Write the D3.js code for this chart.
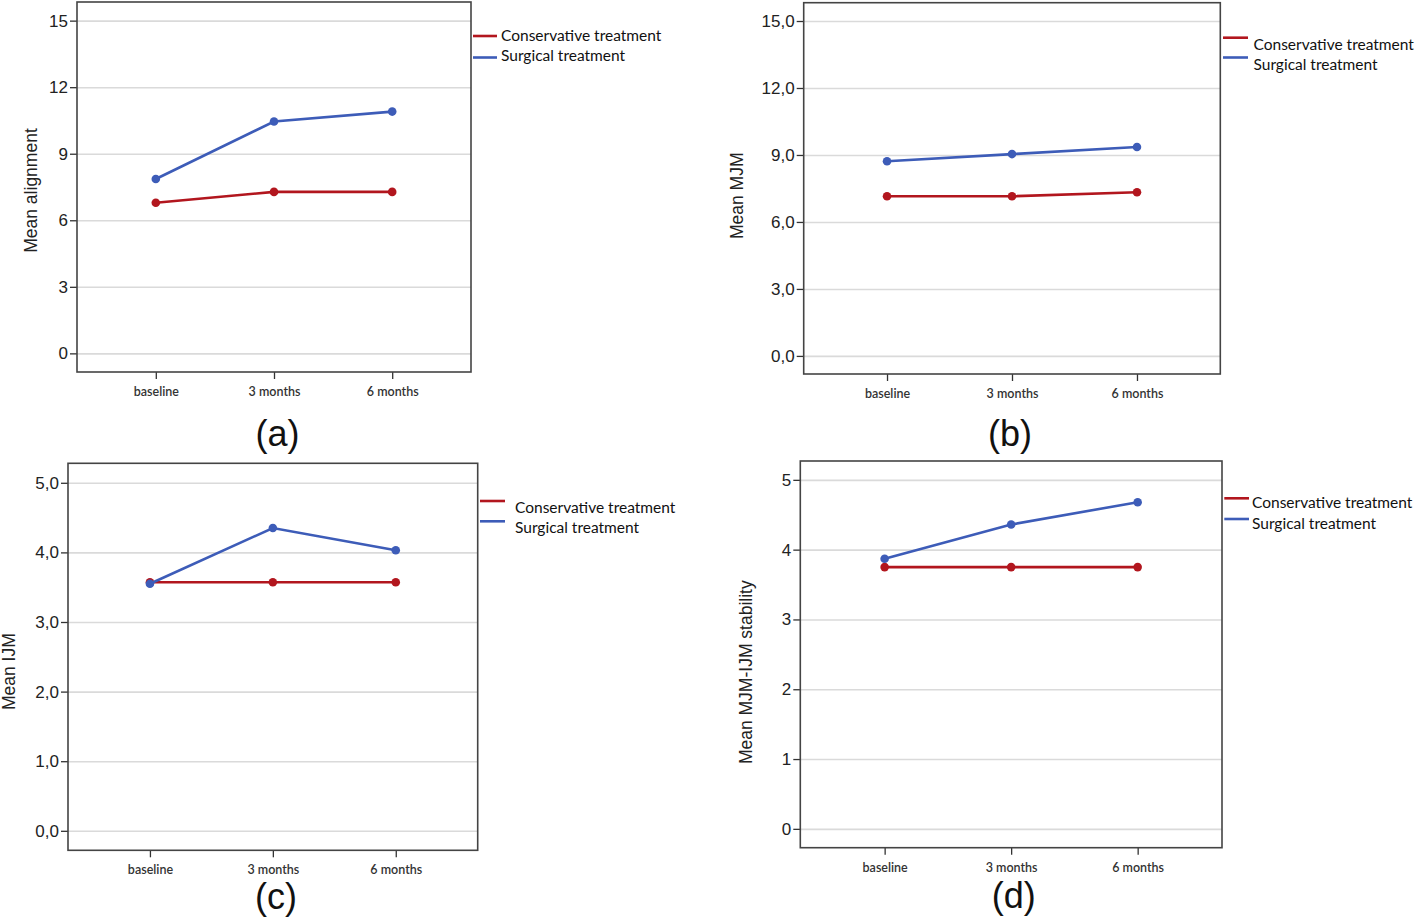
<!DOCTYPE html>
<html>
<head>
<meta charset="utf-8">
<script src="https://cdn.jsdelivr.net/npm/d3@7"></script>
<style>
  html, body { margin: 0; padding: 0; background: #ffffff; }
  svg { display: block; }
</style>
</head>
<body>
<svg id="chart" width="1418" height="920"></svg>
<script>
// ---------------- data ----------------
const timepoints = ["baseline", "3 months", "6 months"];
const seriesNames = ["Conservative treatment", "Surgical treatment"];

const alignmentConservative = [6.79, 7.28, 7.28];
const alignmentSurgical     = [7.86, 10.45, 10.90];

const mjmConservative = [7.15, 7.15, 7.33];
const mjmSurgical     = [8.72, 9.04, 9.36];

const ijmConservative = [3.57, 3.57, 3.57];
const ijmSurgical     = [3.55, 4.35, 4.03];

const stabilityConservative = [3.75, 3.75, 3.75];
const stabilitySurgical     = [3.87, 4.36, 4.68];

const ticksA = [0, 3, 6, 9, 12, 15];
const tickLabelsA = ["0", "3", "6", "9", "12", "15"];
const ticksB = [0, 3, 6, 9, 12, 15];
const tickLabelsB = ["0,0", "3,0", "6,0", "9,0", "12,0", "15,0"];
const ticksC = [0, 1, 2, 3, 4, 5];
const tickLabelsC = ["0,0", "1,0", "2,0", "3,0", "4,0", "5,0"];
const ticksD = [0, 1, 2, 3, 4, 5];
const tickLabelsD = ["0", "1", "2", "3", "4", "5"];

const yTitles = ["Mean alignment", "Mean MJM", "Mean IJM", "Mean MJM-IJM stability"];
const panelLetters = ["(a)", "(b)", "(c)", "(d)"];

// ---------------- style / layout ----------------
const colors = ["#b2161e", "#3d5cb8"];
const svg = d3.select("#chart");

const panels = [
  { cons: alignmentConservative, surg: alignmentSurgical, ticks: ticksA, labels: tickLabelsA,
    x0: 77, x1: 471, y0: 2, y1: 372, dom: [-0.84, 15.84],
    title: yTitles[0], titleX: 36.5, titleY: 190.5,
    letter: panelLetters[0], letterX: 277.5, letterY: 446,
    leg: { lx0: 473, lx1: 497, ly: [36, 57.5], tx: 501, ty: [41, 61] } },
  { cons: mjmConservative, surg: mjmSurgical, ticks: ticksB, labels: tickLabelsB,
    x0: 803.7, x1: 1220.3, y0: 2.7, y1: 374, dom: [-0.81, 15.82],
    title: yTitles[1], titleX: 743.3, titleY: 195.8,
    letter: panelLetters[1], letterX: 1010, letterY: 446,
    leg: { lx0: 1223, lx1: 1248, ly: [37.7, 57.5], tx: 1253.5, ty: [50, 69.5] } },
  { cons: ijmConservative, surg: ijmSurgical, ticks: ticksC, labels: tickLabelsC,
    x0: 68, x1: 477.7, y0: 463.3, y1: 850.3, dom: [-0.28, 5.28],
    title: yTitles[2], titleX: 15, titleY: 671.7,
    letter: panelLetters[2], letterX: 276, letterY: 909,
    leg: { lx0: 480, lx1: 505, ly: [501, 521.3], tx: 515, ty: [513.3, 533.3] } },
  { cons: stabilityConservative, surg: stabilitySurgical, ticks: ticksD, labels: tickLabelsD,
    x0: 800.3, x1: 1222, y0: 461, y1: 847.7, dom: [-0.27, 5.27],
    title: yTitles[3], titleX: 752.3, titleY: 672.2,
    letter: panelLetters[3], letterX: 1013.8, letterY: 908,
    leg: { lx0: 1224.3, lx1: 1249, ly: [498.3, 519], tx: 1252, ty: [508.3, 529.3] } }
];

panels.forEach(p => {
  const g = svg.append("g");
  const x = d3.scalePoint().domain(timepoints).range([p.x0, p.x1]).padding(2 / 3);
  const y = d3.scaleLinear().domain(p.dom).range([p.y1, p.y0]);
  const w = p.x1 - p.x0;

  // grid lines
  const grid = g.append("g").attr("transform", `translate(${p.x0},0)`)
    .call(d3.axisLeft(y).tickValues(p.ticks).tickSize(-w).tickFormat(""));
  grid.select(".domain").remove();
  grid.selectAll("line").attr("stroke", "#dadada").attr("stroke-width", 1.6);

  // y axis ticks + labels
  const yAxis = g.append("g").attr("transform", `translate(${p.x0},0)`)
    .call(d3.axisLeft(y).tickValues(p.ticks).tickSize(7).tickPadding(2)
      .tickFormat((d, i) => p.labels[i]));
  yAxis.select(".domain").remove();
  yAxis.selectAll("line").attr("stroke", "#333").attr("stroke-width", 1.3);
  yAxis.selectAll("text").attr("font-family", "'Liberation Sans', Arial, sans-serif")
    .attr("font-size", 17).attr("fill", "#222");

  // x axis ticks + labels
  const xAxis = g.append("g").attr("transform", `translate(0,${p.y1})`)
    .call(d3.axisBottom(x).tickSize(7).tickPadding(0));
  xAxis.select(".domain").remove();
  xAxis.selectAll("line").attr("stroke", "#333").attr("stroke-width", 1.3);
  xAxis.selectAll("text").attr("font-family", "Lato, 'Open Sans', sans-serif")
    .attr("font-size", 12.5).attr("fill", "#333").attr("dy", null).attr("y", 24)
    .attr("font-weight", 600);

  // frame
  g.append("rect").attr("x", p.x0).attr("y", p.y0).attr("width", w).attr("height", p.y1 - p.y0)
    .attr("fill", "none").attr("stroke", "#444").attr("stroke-width", 1.6);

  // series
  const line = d3.line().x((d, i) => x(timepoints[i])).y(d => y(d));
  [p.cons, p.surg].forEach((vals, si) => {
    g.append("path").datum(vals).attr("d", line)
      .attr("fill", "none").attr("stroke", colors[si]).attr("stroke-width", 2.6);
    g.selectAll(null).data(vals).enter().append("circle")
      .attr("cx", (d, i) => x(timepoints[i])).attr("cy", d => y(d)).attr("r", 4.3)
      .attr("fill", colors[si]);
  });

  // y title
  g.append("text").attr("transform", `translate(${p.titleX},${p.titleY}) rotate(-90)`)
    .attr("text-anchor", "middle").attr("font-family", "'Liberation Sans', Arial, sans-serif")
    .attr("font-size", 17.5).attr("fill", "#222").text(p.title);

  // legend
  seriesNames.forEach((name, si) => {
    g.append("line").attr("x1", p.leg.lx0).attr("x2", p.leg.lx1)
      .attr("y1", p.leg.ly[si]).attr("y2", p.leg.ly[si])
      .attr("stroke", colors[si]).attr("stroke-width", 2.6);
    g.append("text").attr("x", p.leg.tx).attr("y", p.leg.ty[si])
      .attr("font-family", "Lato, 'Open Sans', sans-serif").attr("font-size", 15.5)
      .attr("fill", "#111").text(name);
  });

  // panel letter
  g.append("text").attr("x", p.letterX).attr("y", p.letterY).attr("text-anchor", "middle")
    .attr("font-family", "'Liberation Sans', Arial, sans-serif").attr("font-size", 36)
    .attr("fill", "#111").text(p.letter);
});
</script>
</body>
</html>
